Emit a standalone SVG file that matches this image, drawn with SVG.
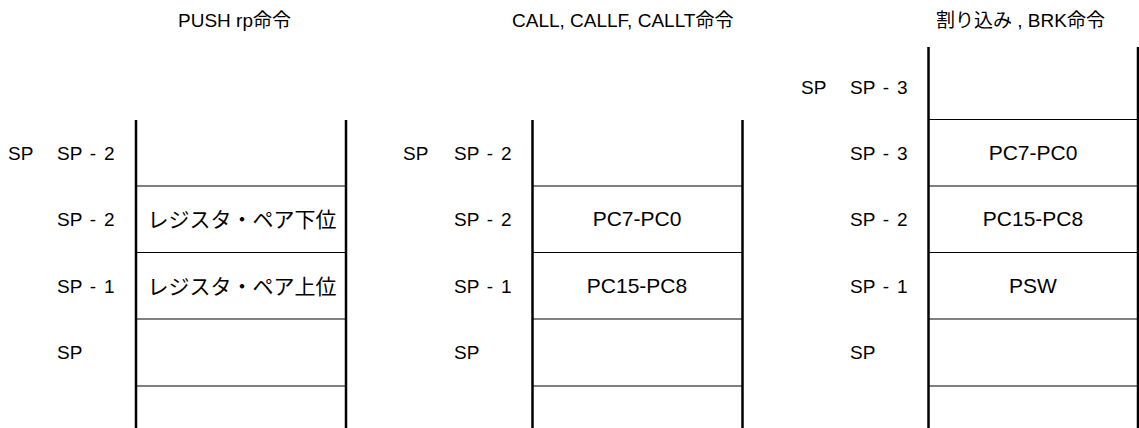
<svg xmlns="http://www.w3.org/2000/svg" width="1139" height="428" viewBox="0 0 1139 428">
<style>
text{font-family:"Liberation Sans","Noto Sans CJK JP",sans-serif;font-size:19px;fill:#000;white-space:pre}
.l{word-spacing:2.5px}
.c{text-anchor:middle;font-size:21px}
.v{stroke:#000;stroke-width:2.5;fill:none}
.h{stroke:#000;stroke-width:1;fill:none}
</style>
<rect width="1139" height="428" fill="#fff"/>
<g id="titles">
<text x="178" y="27">PUSH rp命令</text>
<text x="512" y="27">CALL, CALLF, CALLT命令</text>
<text x="936" y="27">割り込み , BRK命令</text>
</g>
<g id="stack-push">
<line class="v" x1="136" y1="120" x2="136" y2="428"/>
<line class="v" x1="346" y1="120" x2="346" y2="428"/>
<line class="h" x1="136" y1="186" x2="346" y2="186"/>
<line class="h" x1="136" y1="252.5" x2="346" y2="252.5"/>
<line class="h" x1="136" y1="319" x2="346" y2="319"/>
<line class="h" x1="136" y1="386" x2="346" y2="386"/>
<text x="8" y="160">SP</text>
<text class="l" x="57" y="160">SP - 2</text>
<text class="l" x="57" y="226">SP - 2</text>
<text class="l" x="57" y="293">SP - 1</text>
<text x="57" y="359">SP</text>
<text class="c" x="242" y="227">レジスタ・ペア下位</text>
<text class="c" x="242" y="294">レジスタ・ペア上位</text>
</g>
<g id="stack-call">
<line class="v" x1="532.5" y1="120" x2="532.5" y2="428"/>
<line class="v" x1="742.5" y1="120" x2="742.5" y2="428"/>
<line class="h" x1="532.5" y1="186" x2="742.5" y2="186"/>
<line class="h" x1="532.5" y1="252.5" x2="742.5" y2="252.5"/>
<line class="h" x1="532.5" y1="319" x2="742.5" y2="319"/>
<line class="h" x1="532.5" y1="386" x2="742.5" y2="386"/>
<text x="403" y="160">SP</text>
<text class="l" x="454" y="160">SP - 2</text>
<text class="l" x="454" y="226">SP - 2</text>
<text class="l" x="454" y="293">SP - 1</text>
<text x="454" y="359">SP</text>
<text class="c" x="637" y="226">PC7-PC0</text>
<text class="c" x="637" y="293">PC15-PC8</text>
</g>
<g id="stack-int">
<line class="v" x1="928.5" y1="47" x2="928.5" y2="428"/>
<line class="v" x1="1138" y1="47" x2="1138" y2="428"/>
<line class="h" x1="928.5" y1="119.5" x2="1138" y2="119.5"/>
<line class="h" x1="928.5" y1="186" x2="1138" y2="186"/>
<line class="h" x1="928.5" y1="252.5" x2="1138" y2="252.5"/>
<line class="h" x1="928.5" y1="319" x2="1138" y2="319"/>
<line class="h" x1="928.5" y1="386" x2="1138" y2="386"/>
<text x="801" y="94">SP</text>
<text class="l" x="850" y="94">SP - 3</text>
<text class="l" x="850" y="160">SP - 3</text>
<text class="l" x="850" y="226">SP - 2</text>
<text class="l" x="850" y="293">SP - 1</text>
<text x="850" y="359">SP</text>
<text class="c" x="1033" y="160">PC7-PC0</text>
<text class="c" x="1033" y="226">PC15-PC8</text>
<text class="c" x="1033" y="293">PSW</text>
</g>
</svg>
